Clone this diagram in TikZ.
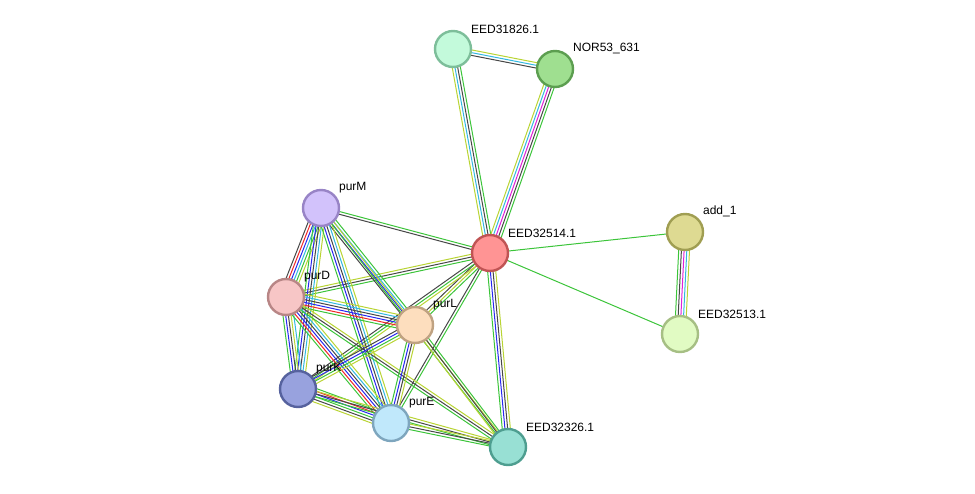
\documentclass[tikz,border=0pt]{standalone}
\usepackage{fontspec}
\setmainfont{Liberation Sans}
\usetikzlibrary{calc}
\pgfdeclarelayer{background}
\pgfsetlayers{background,main}

% edge colours
\definecolor{egreen}{HTML}{3CC43A}
\definecolor{eblack}{HTML}{474747}
\definecolor{ecyan}{HTML}{33B8E0}
\definecolor{eyellow}{HTML}{B9D434}
\definecolor{emag}{HTML}{E020D8}
\definecolor{eblue}{HTML}{2828F0}
\definecolor{ered}{HTML}{F02828}
% node colours
\definecolor{f31826}{HTML}{C3FADB}\definecolor{d31826}{HTML}{7DBE9A}
\definecolor{fnor}{HTML}{9FDF90}\definecolor{dnor}{HTML}{5C9E50}
\definecolor{fpurM}{HTML}{D2C2FB}\definecolor{dpurM}{HTML}{9884C6}
\definecolor{f32514}{HTML}{FF9494}\definecolor{d32514}{HTML}{C05454}
\definecolor{fadd}{HTML}{DEDA92}\definecolor{dadd}{HTML}{A09E52}
\definecolor{fpurD}{HTML}{F7C6C6}\definecolor{dpurD}{HTML}{B88686}
\definecolor{fpurL}{HTML}{FDDEBE}\definecolor{dpurL}{HTML}{BFA282}
\definecolor{f32513}{HTML}{E1FBC3}\definecolor{d32513}{HTML}{A6BF84}
\definecolor{fpurK}{HTML}{98A2DE}\definecolor{dpurK}{HTML}{56629E}
\definecolor{fpurE}{HTML}{C0E8FB}\definecolor{dpurE}{HTML}{7EA6BE}
\definecolor{f32326}{HTML}{98E0D4}\definecolor{d32326}{HTML}{4E9E90}

% bundle of parallel lines between two nodes: from, to, number, colours
\newcommand{\strandlink}[4]{%
  \begin{pgfonlayer}{background}
  \foreach \col [count=\k] in {#4} {
    \pgfmathsetmacro{\lnkoff}{(\k-(#3+1)/2)*2.7}
    \draw[color=\col, line width=1pt]
      ($(#1)!\lnkoff pt!90:(#2)$) -- ($(#2)!\lnkoff pt!-90:(#1)$);
  }
  \end{pgfonlayer}
}

\tikzset{
  prot/.style={circle, minimum size=36pt, inner sep=0pt, line width=2.4pt},
  lbl/.style={font=\fontsize{12}{14}\selectfont, inner sep=0pt, label distance=4pt,
    xshift=1.5pt, yshift=-1.5pt}
}

\begin{document}
\begin{tikzpicture}[x=1pt, y=-1pt]
\useasboundingbox (0,0) rectangle (975,493);

% proteins
\node[prot, fill=f31826, draw=d31826, label={[lbl]45:EED31826.1}] (e31826) at (453,49) {};
\node[prot, fill=fnor, draw=dnor, label={[lbl]45:NOR53\_631}] (nor) at (555,69) {};
\node[prot, fill=fpurM, draw=dpurM, label={[lbl]45:purM}] (purM) at (321,208) {};
\node[prot, fill=f32514, draw=d32514, label={[lbl]45:EED32514.1}] (e32514) at (490,253) {};
\node[prot, fill=fadd, draw=dadd, label={[lbl]45:add\_1}] (add) at (685,232) {};
\node[prot, fill=fpurD, draw=dpurD, label={[lbl]45:purD}] (purD) at (286,297) {};
\node[prot, fill=fpurL, draw=dpurL, label={[lbl]45:purL}] (purL) at (415,325) {};
\node[prot, fill=f32513, draw=d32513, label={[lbl]45:EED32513.1}] (e32513) at (680,334) {};
\node[prot, fill=fpurK, draw=dpurK, label={[lbl]45:purK}] (purK) at (298,389) {};
\node[prot, fill=fpurE, draw=dpurE, label={[lbl]45:purE}] (purE) at (391,423) {};
\node[prot, fill=f32326, draw=d32326, label={[lbl]45:EED32326.1}] (e32326) at (508,447) {};

% links
\strandlink{e31826}{nor}{3}{eblack,ecyan,eyellow}
\strandlink{e31826}{e32514}{4}{eyellow,ecyan,eblack,egreen}
\strandlink{nor}{e32514}{5}{eyellow,ecyan,emag,eblack,egreen}
\strandlink{e32514}{add}{1}{egreen}
\strandlink{e32514}{e32513}{1}{egreen}
\strandlink{add}{e32513}{5}{egreen,eblack,emag,ecyan,eyellow}
\strandlink{purM}{e32514}{2}{eblack,egreen}
\strandlink{purD}{e32514}{3}{egreen,eblack,eyellow}
\strandlink{purL}{e32514}{3}{egreen,eyellow,eblack}
\strandlink{purK}{e32514}{3}{eyellow,egreen,eblack}
\strandlink{purE}{e32514}{2}{egreen,eblack}
\strandlink{e32326}{e32514}{4}{eyellow,eblack,eblue,egreen}
\strandlink{purM}{purD}{6}{eblack,ered,eblue,ecyan,egreen,eyellow}
\strandlink{purM}{purL}{4}{eblack,eblue,ecyan,egreen}
\strandlink{purM}{purK}{5}{egreen,eblue,eblack,ecyan,eyellow}
\strandlink{purM}{purE}{5}{egreen,eblue,eblack,ecyan,eyellow}
\strandlink{purM}{e32326}{2}{egreen,eyellow}
\strandlink{purD}{purL}{6}{egreen,ered,eblue,eblack,ecyan,eyellow}
\strandlink{purD}{purK}{5}{egreen,eblue,eblack,eyellow,ecyan}
\strandlink{purD}{purE}{6}{egreen,ered,eblue,eblack,ecyan,eyellow}
\strandlink{purD}{e32326}{3}{egreen,eblack,eyellow}
\strandlink{purL}{purK}{4}{eblack,eblue,egreen,eyellow}
\strandlink{purL}{purE}{4}{egreen,eblue,eblack,eyellow}
\strandlink{purL}{e32326}{3}{eyellow,eblack,egreen}
\strandlink{purK}{purE}{6}{eyellow,eblack,egreen,eblue,ered,egreen}
\strandlink{purK}{e32326}{3}{egreen,eblack,eyellow}
\strandlink{purE}{e32326}{3}{egreen,eblack,eyellow}

\end{tikzpicture}
\end{document}
